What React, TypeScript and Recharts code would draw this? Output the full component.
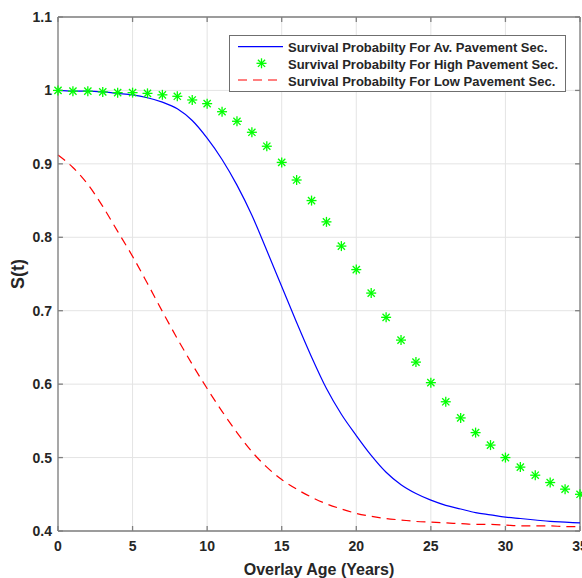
import React from 'react';
import { ComposedChart, Line, XAxis, YAxis, CartesianGrid, ReferenceLine, Legend, Label } from 'recharts';

const years = [0, 1, 2, 3, 4, 5, 6, 7, 8, 9, 10, 11, 12, 13, 14, 15, 16, 17, 18, 19, 20, 21, 22, 23, 24, 25, 26, 27, 28, 29, 30, 31, 32, 33, 34, 35];
const avValues = [1.0, 0.999, 0.999, 0.998, 0.996, 0.994, 0.99, 0.984, 0.975, 0.959, 0.935, 0.906, 0.871, 0.83, 0.782, 0.733, 0.684, 0.637, 0.594, 0.559, 0.53, 0.503, 0.48, 0.463, 0.451, 0.442, 0.435, 0.43, 0.425, 0.422, 0.419, 0.417, 0.415, 0.413, 0.412, 0.411];
const highValues = [1.0, 0.999, 0.999, 0.998, 0.997, 0.997, 0.996, 0.994, 0.992, 0.987, 0.982, 0.971, 0.958, 0.943, 0.924, 0.902, 0.878, 0.85, 0.821, 0.788, 0.756, 0.724, 0.691, 0.66, 0.63, 0.602, 0.576, 0.554, 0.534, 0.517, 0.5, 0.487, 0.476, 0.466, 0.457, 0.45];
const lowValues = [0.912, 0.895, 0.872, 0.842, 0.808, 0.774, 0.737, 0.699, 0.662, 0.627, 0.594, 0.563, 0.534, 0.508, 0.487, 0.47, 0.457, 0.446, 0.437, 0.43, 0.424, 0.42, 0.417, 0.415, 0.413, 0.412, 0.411, 0.41, 0.409, 0.409, 0.408, 0.407, 0.407, 0.407, 0.406, 0.406];
const xTicks = [0, 5, 10, 15, 20, 25, 30, 35];
const yTicks = [0.4, 0.5, 0.6, 0.7, 0.8, 0.9, 1.0, 1.1];
const seriesNames = [
  'Survival Probabilty For Av. Pavement Sec.',
  'Survival Probabilty For High Pavement Sec.',
  'Survival Probabilty For Low Pavement Sec.',
];
const xLabel = 'Overlay Age (Years)';
const yLabel = 'S(t)';

const data = years.map((x, i) => ({ x, av: avValues[i], high: highValues[i], low: lowValues[i] }));

const FONT = '"Liberation Sans", Arial, Helvetica, sans-serif';
const AXIS = '#7f7f7f';
const TEXT = '#262626';
const BLUE = '#0000ff';
const GREEN = '#00ff00';
const RED = '#ff0000';

const Star = ({ cx, cy, r = 5 }: { cx: number; cy: number; r?: number }) => {
  const d = r * 0.72;
  return (
    <g stroke={GREEN} strokeWidth={1.3}>
      <line x1={cx - r} y1={cy} x2={cx + r} y2={cy} />
      <line x1={cx} y1={cy - r} x2={cx} y2={cy + r} />
      <line x1={cx - d} y1={cy - d} x2={cx + d} y2={cy + d} />
      <line x1={cx - d} y1={cy + d} x2={cx + d} y2={cy - d} />
    </g>
  );
};

const LegendBox = () => {
  const rows = [11.7, 28.3, 45];
  return (
    <div style={{ width: 337, height: 57, border: '1px solid #6f6f6f', background: '#fff', boxSizing: 'border-box' }}>
      <svg width={335} height={55} style={{ display: 'block' }}>
        <line x1={8} y1={rows[0] - 1} x2={53} y2={rows[0] - 1} stroke={BLUE} strokeWidth={1.2} />
        <Star cx={31.5} cy={rows[1] - 1} />
        <line x1={8} y1={rows[2] - 1} x2={53} y2={rows[2] - 1} stroke={RED} strokeWidth={1.2} strokeDasharray="9 6" />
        {seriesNames.map((n, i) => (
          <text key={n} x={58} y={rows[i]} dy="0.35em" fontFamily={FONT} fontWeight="bold" fontSize={13} fill={TEXT}>
            {n}
          </text>
        ))}
      </svg>
    </div>
  );
};

const tx = 0.33;
const ty = 0.0068;

export default function App() {
  return (
    <div style={{ position: 'absolute', left: 0, top: 0, width: 582, height: 578, background: '#fff' }}>
      <ComposedChart width={582} height={578} data={data} margin={{ top: 17, right: 2, bottom: 0, left: 0 }}>
        <CartesianGrid stroke="#e4e4e4" strokeWidth={1} />
        <XAxis
          dataKey="x"
          type="number"
          domain={[0, 35]}
          ticks={xTicks}
          interval={0}
          height={47}
          tickLine={false}
          tickSize={6}
          tickMargin={4}
          axisLine={{ stroke: AXIS, strokeWidth: 1.3 }}
          tick={{ fontFamily: FONT, fontWeight: 'bold', fontSize: 14, fill: TEXT }}
        >
          <Label value={xLabel} position="insideBottom" offset={3} style={{ fontFamily: FONT, fontWeight: 'bold', fontSize: 16, fill: TEXT }} />
        </XAxis>
        <YAxis
          type="number"
          domain={[0.4, 1.1]}
          ticks={yTicks}
          interval={0}
          width={58}
          tickLine={false}
          tickSize={4}
          tickMargin={2}
          axisLine={{ stroke: AXIS, strokeWidth: 1.3 }}
          tickFormatter={(v: number) => String(Math.round(v * 10) / 10)}
          tick={{ fontFamily: FONT, fontWeight: 'bold', fontSize: 14, fill: TEXT }}
        >
          <Label value={yLabel} angle={-90} position="insideLeft" offset={18} style={{ textAnchor: 'middle', fontFamily: FONT, fontWeight: 'bold', fontSize: 18, fill: TEXT }} />
        </YAxis>
        <ReferenceLine y={1.1} stroke={AXIS} strokeWidth={1.3} ifOverflow="visible" />
        <ReferenceLine x={35} stroke={AXIS} strokeWidth={1.3} ifOverflow="visible" />
        {xTicks.map((t) => (
          <ReferenceLine key={'xb' + t} segment={[{ x: t, y: 0.4 }, { x: t, y: 0.4 + ty }]} stroke={AXIS} strokeWidth={1.3} ifOverflow="visible" />
        ))}
        {xTicks.map((t) => (
          <ReferenceLine key={'xt' + t} segment={[{ x: t, y: 1.1 }, { x: t, y: 1.1 - ty }]} stroke={AXIS} strokeWidth={1.3} ifOverflow="visible" />
        ))}
        {yTicks.map((t) => (
          <ReferenceLine key={'yl' + t} segment={[{ x: 0, y: t }, { x: tx, y: t }]} stroke={AXIS} strokeWidth={1.3} ifOverflow="visible" />
        ))}
        {yTicks.map((t) => (
          <ReferenceLine key={'yr' + t} segment={[{ x: 35, y: t }, { x: 35 - tx, y: t }]} stroke={AXIS} strokeWidth={1.3} ifOverflow="visible" />
        ))}
        <Line
          dataKey="low"
          type="monotone"
          stroke={RED}
          strokeWidth={1.2}
          strokeDasharray="9 6"
          dot={false}
          activeDot={false}
          isAnimationActive={false}
        />
        <Line
          dataKey="av"
          type="monotone"
          stroke={BLUE}
          strokeWidth={1.2}
          dot={false}
          activeDot={false}
          isAnimationActive={false}
        />
        <Line
          dataKey="high"
          type="monotone"
          stroke="none"
          strokeWidth={0}
          dot={(p: any) => <Star key={'s' + p.index} cx={p.cx} cy={p.cy} />}
          activeDot={false}
          isAnimationActive={false}
        />
        <Legend
          layout="horizontal"
          align="center"
          verticalAlign="middle"
          content={() => <LegendBox />}
          wrapperStyle={{ position: 'absolute', left: 229, top: 35, width: 337, height: 57 }}
        />
      </ComposedChart>
    </div>
  );
}
